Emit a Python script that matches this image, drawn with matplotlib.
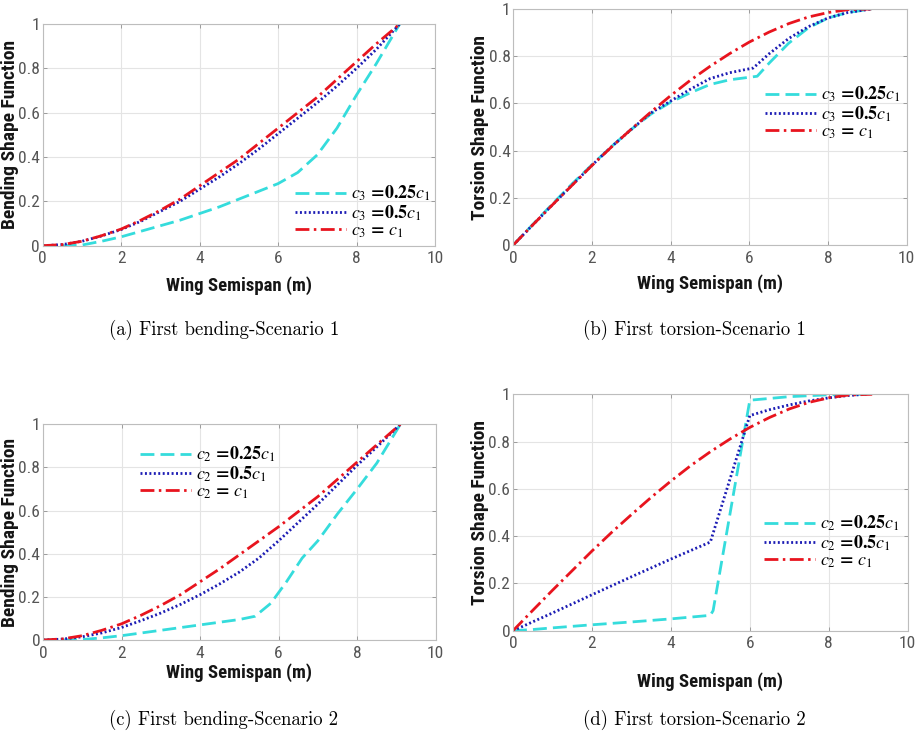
import matplotlib
matplotlib.use("Agg")
import matplotlib.pyplot as plt
from matplotlib import font_manager

# ---------------- data ----------------
# Panel (a): first bending, scenario 1
a_x = [0, 0.5, 1, 1.5, 2, 2.5, 3, 3.5, 4, 4.5, 5, 5.5, 6, 6.5, 7, 7.5, 8, 8.5, 9.1]
a_c025 = [0, 0.0, 0.003, 0.02, 0.04, 0.065, 0.09, 0.115, 0.145, 0.175, 0.21, 0.245, 0.28, 0.33, 0.41, 0.53, 0.68, 0.82, 1.0]
a_c05 = [0, 0.005, 0.02, 0.044, 0.073, 0.11, 0.155, 0.20, 0.255, 0.31, 0.37, 0.435, 0.505, 0.575, 0.645, 0.72, 0.80, 0.885, 1.0]
a_c1 = [0, 0.005, 0.02, 0.045, 0.075, 0.115, 0.16, 0.21, 0.27, 0.33, 0.39, 0.46, 0.53, 0.60, 0.67, 0.75, 0.83, 0.91, 1.0]

# Panel (b): first torsion, scenario 1
b_x_c1 = [0, 0.5, 1, 1.5, 2, 2.5, 3, 3.5, 4, 4.5, 5, 5.5, 6, 6.5, 7, 7.5, 8, 8.5, 9.1]
b_c1 = [0, 0.086, 0.171, 0.254, 0.337, 0.416, 0.491, 0.564, 0.633, 0.698, 0.757, 0.811, 0.860, 0.902, 0.938, 0.966, 0.985, 0.997, 1.0]
b_x_c05 = [0, 0.5, 1, 1.5, 2, 2.5, 3, 3.5, 4, 4.5, 5, 5.5, 6.1, 6.5, 7, 7.5, 8, 8.5, 9.1]
b_c05 = [0, 0.086, 0.171, 0.255, 0.338, 0.417, 0.49, 0.56, 0.61, 0.66, 0.705, 0.73, 0.75, 0.81, 0.875, 0.925, 0.962, 0.985, 1.0]
b_x_c025 = [0, 0.5, 1, 1.5, 2, 2.5, 3, 3.5, 4, 4.5, 5, 5.5, 6.2, 6.5, 7, 7.5, 8, 8.5, 9.1]
b_c025 = [0, 0.088, 0.175, 0.26, 0.34, 0.418, 0.49, 0.555, 0.605, 0.645, 0.68, 0.70, 0.715, 0.77, 0.855, 0.92, 0.962, 0.985, 1.0]

# Panel (c): first bending, scenario 2
c_x = [0, 0.5, 1, 1.5, 2, 2.5, 3, 3.5, 4, 4.5, 5, 5.5, 6, 6.5, 7, 7.5, 8, 8.5, 9.1]
c_c1 = [0, 0.005, 0.02, 0.045, 0.075, 0.115, 0.16, 0.21, 0.27, 0.33, 0.395, 0.46, 0.525, 0.595, 0.665, 0.745, 0.825, 0.905, 1.0]
c_c05 = [0, 0.004, 0.015, 0.033, 0.058, 0.09, 0.125, 0.165, 0.21, 0.26, 0.315, 0.38, 0.46, 0.545, 0.63, 0.72, 0.81, 0.895, 1.0]
c_x_c025 = [0, 0.5, 1, 1.5, 2, 3, 4, 5, 5.4, 5.8, 6.2, 6.6, 7, 7.5, 8, 8.5, 9.1]
c_c025 = [0, 0, 0.002, 0.01, 0.02, 0.045, 0.07, 0.095, 0.11, 0.17, 0.27, 0.38, 0.46, 0.585, 0.70, 0.82, 1.0]

# Panel (d): first torsion, scenario 2
d_x_c1 = [0, 0.5, 1, 1.5, 2, 2.5, 3, 3.5, 4, 4.5, 5, 5.5, 6, 6.5, 7, 7.5, 8, 8.5, 9.1]
d_c1 = [0, 0.086, 0.171, 0.254, 0.337, 0.416, 0.491, 0.564, 0.633, 0.698, 0.757, 0.811, 0.860, 0.902, 0.938, 0.966, 0.985, 0.997, 1.0]
d_x_c05 = [0, 1, 2, 3, 4, 5, 6, 6.5, 7, 7.5, 8, 8.5, 8.95]
d_c05 = [0, 0.075, 0.152, 0.228, 0.303, 0.375, 0.91, 0.935, 0.955, 0.972, 0.985, 0.995, 1.0]
d_x_c025 = [0, 0.5, 1, 2, 3, 4, 5, 5.07, 6.0, 7, 8, 9.1]
d_c025 = [0, 0.005, 0.012, 0.025, 0.037, 0.05, 0.065, 0.085, 0.975, 0.99, 0.998, 1.0]

x_ticks = [0, 2, 4, 6, 8, 10]
y_ticks = [0, 0.2, 0.4, 0.6, 0.8, 1]
y_tick_labels = ["0", "0.2", "0.4", "0.6", "0.8", "1"]

captions = ["(a) First bending-Scenario 1", "(b) First torsion-Scenario 1",
            "(c) First bending-Scenario 2", "(d) First torsion-Scenario 2"]
ylabels = ["Bending Shape Function", "Torsion Shape Function",
           "Bending Shape Function", "Torsion Shape Function"]
xlabel = "Wing Semispan (m)"
labels_c3 = [r"$c_3$ =0.25$c_1$", r"$c_3$ =0.5$c_1$", r"$c_3$ = $c_1$"]
labels_c2 = [r"$c_2$ =0.25$c_1$", r"$c_2$ =0.5$c_1$", r"$c_2$ = $c_1$"]

# ---------------- style ----------------
fonts = font_manager.fontManager.ttflist
names = {f.name for f in fonts}
sans, stretch = "Liberation Sans", "normal"
if "Liberation Sans Narrow" in names:
    sans = "Liberation Sans Narrow"
elif "Roboto Condensed" in names:
    sans = "Roboto Condensed"
elif any(f.name == "DejaVu Sans" and str(f.stretch) in ("condensed", "semi-condensed", "75", "87.5")
         for f in fonts):
    sans, stretch = "DejaVu Sans", "condensed"

plt.rcParams["mathtext.fontset"] = "stix"

CYAN = "#35dcdc"
BLUE = "#1c1cb4"
RED = "#e8141e"
LW = 2.0
LS_DASH = (0, (5.0, 2.2))
LS_DOT = (0, (0.7, 0.9))
LS_DASHDOT = (0, (5.0, 1.6, 0.9, 1.6))

W, H = 918, 736
fig = plt.figure(figsize=(W / 100, H / 100), dpi=100)


def px_axes(left, right, top, bottom):
    return fig.add_axes([left / W, (H - bottom) / H, (right - left) / W, (bottom - top) / H])


axes_px = [
    (42.7, 435.0, 24.0, 245.7),
    (513.3, 906.7, 9.0, 245.0),
    (43.0, 435.7, 424.3, 640.0),
    (513.0, 907.7, 394.3, 630.7),
]

series = [
    [(a_x, a_c025), (a_x, a_c05), (a_x, a_c1)],
    [(b_x_c025, b_c025), (b_x_c05, b_c05), (b_x_c1, b_c1)],
    [(c_x_c025, c_c025), (c_x, c_c05), (c_x, c_c1)],
    [(d_x_c025, d_c025), (d_x_c05, d_c05), (d_x_c1, d_c1)],
]
legend_labels = [labels_c3, labels_c3, labels_c2, labels_c2]
legend_anchor = [(0.643, 0.152), (0.64, 0.559), (0.247, 0.774), (0.636, 0.375)]
xlabel_y = [-0.18, -0.163, -0.153, -0.217]
ylabel_cx = [10, 480, 10, 480]  # pixel centre of the y labels
caption_pos = [(224, 330), (694, 330), (224, 720), (694, 720)]

for i, (l, r, t, b) in enumerate(axes_px):
    ax = px_axes(l, r, t, b)
    styles = [(CYAN, LS_DASH), (BLUE, LS_DOT), (RED, LS_DASHDOT)]
    for (xs, ys), (col, ls), lab in zip(series[i], styles, legend_labels[i]):
        ax.plot(xs, ys, color=col, linestyle=ls, linewidth=LW, label=lab,
                solid_capstyle="butt", dash_capstyle="butt")
    ax.set_xlim(0, 10)
    ax.set_ylim(0, 1)
    ax.set_xticks(x_ticks)
    ax.set_xticklabels([str(v) for v in x_ticks])
    ax.set_yticks(y_ticks)
    ax.set_yticklabels(y_tick_labels)
    ax.grid(True, color="#e4e4e4", linewidth=0.8)
    ax.set_axisbelow(True)
    for sp in ax.spines.values():
        sp.set_color("#bdbdbd")
        sp.set_linewidth(0.8)
    ax.tick_params(direction="in", length=3, width=0.6, color="#909090",
                   top=True, right=True, labelsize=12.5, labelcolor="#555555")
    ax.tick_params(axis="x", pad=4)
    ax.tick_params(axis="y", pad=2)
    for tl in ax.get_xticklabels() + ax.get_yticklabels():
        tl.set_fontfamily(sans)
        tl.set_fontstretch(stretch)
    ax.set_xlabel(xlabel, fontsize=13.5, fontweight="bold", family=sans,
                  fontstretch=stretch, color="#151515")
    ax.xaxis.set_label_coords(0.5, xlabel_y[i])
    ax.xaxis.label.set_verticalalignment("center")
    ax.set_ylabel(ylabels[i], fontsize=14, fontweight="bold", family=sans,
                  fontstretch=stretch, color="#151515")
    ax.yaxis.set_label_coords((ylabel_cx[i] - l) / (r - l), 0.5)
    ax.yaxis.label.set_verticalalignment("center")
    ax.legend(loc="center left", bbox_to_anchor=legend_anchor[i], frameon=False,
              handlelength=2.8, handletextpad=0.3, labelspacing=0.0,
              borderpad=0, borderaxespad=0,
              prop={"family": "STIXGeneral", "size": 13, "weight": "bold"})
    cx, cy = caption_pos[i]
    fig.text(cx / W, 1 - cy / H, captions[i], ha="center", va="center",
             fontsize=13.5, family="cmr10")

fig.savefig("out.png", dpi=100)
